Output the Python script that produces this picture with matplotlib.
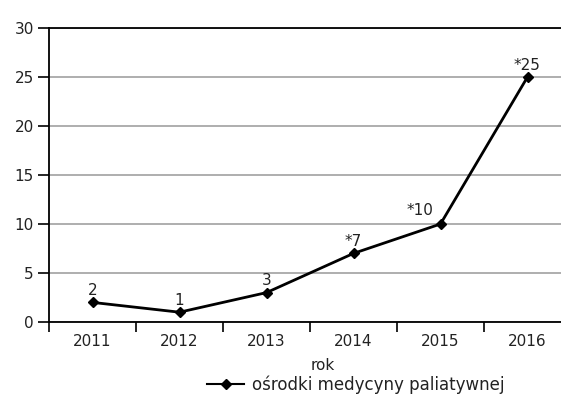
import matplotlib.pyplot as plt
from matplotlib.lines import Line2D

years = ["2011", "2012", "2013", "2014", "2015", "2016"]
values = [2, 1, 3, 7, 10, 25]
point_labels = ["2", "1", "3", "*7", "*10", "*25"]
y_ticks = [0, 5, 10, 15, 20, 25, 30]

plt.rcParams.update({
    'font.family': ['DejaVu Sans'],
    'font.size': 11,
    'text.color': '#222222',
    'xtick.color': '#222222',
    'ytick.color': '#222222',
})

W, H = 561, 398
fig = plt.figure(figsize=(W / 100, H / 100), dpi=100)
# plot area: left 49px, right beyond image (571px), top 28px, bottom 322px
ax = fig.add_axes([49 / W, (H - 322) / H, (571 - 49) / W, (322 - 28) / H])

x = list(range(len(years)))
ax.plot(x, values, color='black', linewidth=2, marker='D', markersize=5.5, zorder=3)

offsets = [(0, 3), (0, 3), (0, 3), (0, 3), (-15, 4), (0, 3)]
for xi, v, lab, off in zip(x, values, point_labels, offsets):
    ax.annotate(lab, (xi, v), xytext=off, textcoords='offset points',
                ha='center', va='bottom', fontsize=11)

ax.set_xlim(-0.5, len(years) - 0.5)
ax.set_ylim(0, 30)
ax.set_yticks(y_ticks)
ax.set_xticks(x)
ax.set_xticklabels(years)
ax.set_xticks([i - 0.5 for i in range(len(years) + 1)], minor=True)
ax.tick_params(axis='x', which='major', length=0, pad=9)
ax.tick_params(axis='x', which='minor', length=7, width=1.2, direction='out', color='black')
ax.tick_params(axis='y', length=8, width=1.2, direction='out', pad=3, color='black')

ax.grid(axis='y', color='#999999', linewidth=1.1)
ax.set_axisbelow(True)
ax.spines['right'].set_visible(False)
for s in ['left', 'bottom', 'top']:
    ax.spines[s].set_color('black')
    ax.spines[s].set_linewidth(1.3)

fig.text(323 / W, 1 - 365 / H, "rok", ha='center', va='center', fontsize=11)
handle = Line2D([], [], color='black', linewidth=1.5, marker='D', markersize=5)
fig.legend([handle], ["ośrodki medycyny paliatywnej"], loc='center',
           bbox_to_anchor=(356 / W, 1 - 385 / H), frameon=False, fontsize=12,
           handlelength=2.2, handletextpad=0.5, borderpad=0)

fig.savefig('out.png', dpi=100)
